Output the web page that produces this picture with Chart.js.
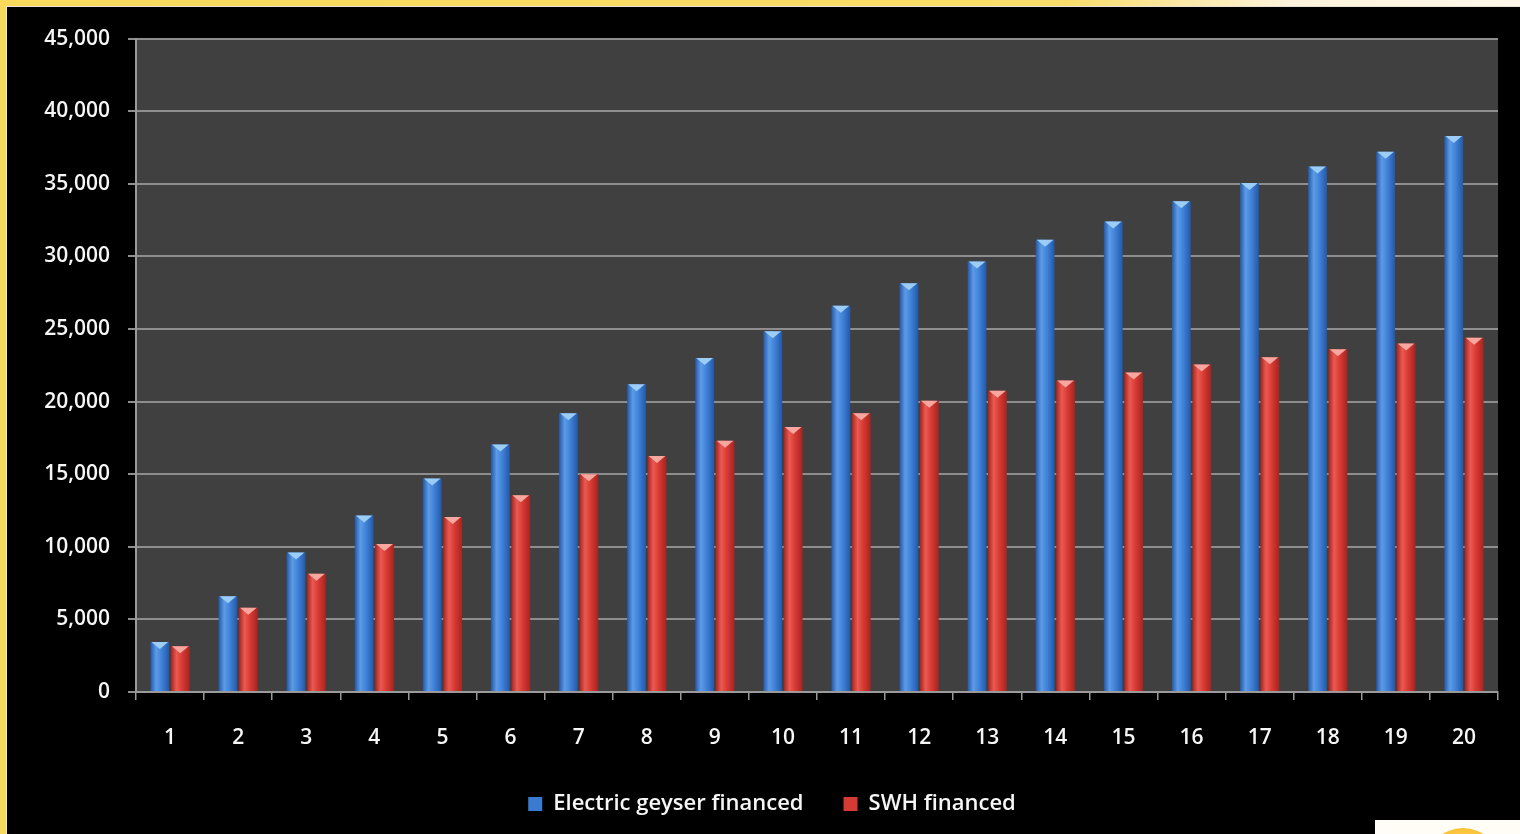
<!DOCTYPE html>
<html>
<head>
<meta charset="utf-8">
<script src="https://cdn.jsdelivr.net/npm/chart.js@4/dist/chart.umd.min.js"></script>
<style>
  html, body { margin: 0; padding: 0; width: 1520px; height: 834px; overflow: hidden; background: #000; }
  #topStrip { position: absolute; left: 0; top: 0; width: 1520px; height: 6px;
    background: linear-gradient(to right, #f8d95c 0%, #f9dd6a 70%, #fdf3dc 85%, #fff8ea 100%); }
  #topLine { position: absolute; left: 6px; top: 6px; width: 1514px; height: 1px; background: #e8e2cf; }
  #leftStrip { position: absolute; left: 0; top: 0; width: 6px; height: 834px; background: #f8d95c; }
  #leftLine { position: absolute; left: 6px; top: 6px; width: 1px; height: 828px; background: #f3ead0; }
  #wrap { position: absolute; left: 8px; top: 8px; width: 1512px; height: 826px; background: #000; }
  #logo { position: absolute; left: 1375px; top: 820px; width: 145px; height: 14px; background: #fffdf6; overflow: hidden; }
  #logo div { position: absolute; left: 50px; top: 8px; width: 76px; height: 76px; border-radius: 50%;
    background: radial-gradient(circle at 50% 30%, #ffd24a, #f4a81c); }
</style>
</head>
<body>
<div id="topStrip"></div>
<div id="leftStrip"></div>
<div id="topLine"></div>
<div id="leftLine"></div>
<div id="wrap"><canvas id="c" width="1512" height="826"></canvas></div>
<div id="logo"><div></div></div>
<script>
const labels = ['1','2','3','4','5','6','7','8','9','10','11','12','13','14','15','16','17','18','19','20'];
const electricGeyser = [3450, 6600, 9600, 12150, 14700, 17050, 19200, 21200, 23000, 24850, 26600, 28150, 29650, 31150, 32400, 33800, 35050, 36200, 37200, 38300];
const swhFinanced = [3150, 5800, 8150, 10200, 12050, 13550, 15000, 16250, 17300, 18250, 19200, 20050, 20750, 21450, 22000, 22550, 23050, 23600, 24000, 24400];
const seriesNames = ['Electric geyser financed', 'SWH financed'];
const yTicks = [0, 5000, 10000, 15000, 20000, 25000, 30000, 35000, 40000, 45000];

const CAT_PCT = 0.6, BAR_PCT = 0.92;
const palettes = [
  { edge: '#2458a8', mid: '#3f82d8', light: '#5d9be6', cap: '#9ccdf7', solid: '#3a7bd0' },
  { edge: '#a52420', mid: '#d83a33', light: '#ea5a52', cap: '#f7a7a0', solid: '#d63a33' }
];

function barFill(ctx) {
  const p = palettes[ctx.datasetIndex];
  if (ctx.type !== 'data') return p.solid;
  const chart = ctx.chart;
  const xs = chart.scales.x;
  if (!xs || !isFinite(xs.width) || xs.width <= 0) return p.solid;
  const catW = xs.width / labels.length;
  const center = xs.getPixelForValue(ctx.dataIndex);
  const slot = catW * CAT_PCT / 2;
  const w = slot * BAR_PCT;
  const cx = center + (ctx.datasetIndex === 0 ? -slot / 2 : slot / 2);
  const g = chart.ctx.createLinearGradient(cx - w / 2, 0, cx + w / 2, 0);
  g.addColorStop(0, p.edge);
  g.addColorStop(0.3, p.light);
  g.addColorStop(0.6, p.mid);
  g.addColorStop(1, p.edge);
  return g;
}

const bgPlugin = {
  id: 'plotBg',
  beforeDraw(chart) {
    const { ctx, chartArea: a } = chart;
    ctx.save();
    ctx.fillStyle = '#404040';
    ctx.fillRect(a.left, a.top, a.right - a.left, a.bottom - a.top);
    ctx.restore();
  }
};

const legendShift = {
  id: 'legendShift',
  afterLayout(chart) {
    if (chart.legend) { chart.legend.left += 19; chart.legend.right += 19; }
  }
};

const capPlugin = {
  id: 'barCaps',
  afterDatasetsDraw(chart) {
    const ctx = chart.ctx;
    chart.data.datasets.forEach((ds, di) => {
      const meta = chart.getDatasetMeta(di);
      const p = palettes[di];
      meta.data.forEach(el => {
        const { x, y, width } = el.getProps(['x', 'y', 'width'], true);
        const h = Math.min(7, width * 0.38);
        ctx.save();
        ctx.fillStyle = p.cap;
        ctx.beginPath();
        ctx.moveTo(x - width / 2 + 1, y);
        ctx.lineTo(x + width / 2 - 1, y);
        ctx.lineTo(x, y + h);
        ctx.closePath();
        ctx.fill();
        ctx.restore();
      });
    });
  }
};

const FONT = '"Open Sans", Lato, sans-serif';
const TXT = '#f6f6f6';

new Chart(document.getElementById('c'), {
  type: 'bar',
  data: {
    labels: labels,
    datasets: [
      { label: seriesNames[0], data: electricGeyser, backgroundColor: barFill, borderWidth: 0,
        categoryPercentage: CAT_PCT, barPercentage: BAR_PCT },
      { label: seriesNames[1], data: swhFinanced, backgroundColor: barFill, borderWidth: 0,
        categoryPercentage: CAT_PCT, barPercentage: BAR_PCT }
    ]
  },
  options: {
    responsive: false,
    animation: false,
    layout: { padding: { top: 29, right: 22, bottom: 9, left: 0 } },
    plugins: {
      legend: {
        position: 'bottom',
        labels: {
          color: TXT,
          font: { family: FONT, size: 22, weight: '600' },
          boxWidth: 14, boxHeight: 14,
          padding: 40,
          generateLabels(chart) {
            return chart.data.datasets.map((ds, i) => ({
              text: ds.label, fillStyle: palettes[i].solid, strokeStyle: palettes[i].solid,
              lineWidth: 0, hidden: false, datasetIndex: i, fontColor: TXT
            }));
          }
        }
      },
      tooltip: { enabled: false }
    },
    scales: {
      x: {
        afterFit(s) { s.height = 61; },
        grid: { display: true, drawOnChartArea: false, drawTicks: true, tickLength: 8, color: '#9a9a9a', lineWidth: 1.5, offset: true },
        border: { display: true, color: '#9a9a9a', width: 2 },
        ticks: { color: TXT, font: { family: FONT, size: 21, weight: '600' }, padding: 25, maxRotation: 0 }
      },
      y: {
        min: 0, max: 45000,
        afterFit(s) { s.width = 128; },
        afterBuildTicks(s) { s.ticks = yTicks.map(v => ({ value: v })); },
        grid: { color: '#8e8e8e', lineWidth: 2, tickLength: 8, drawTicks: true },
        border: { display: true, color: '#9a9a9a', width: 2 },
        ticks: {
          color: TXT, font: { family: FONT, size: 21, weight: '600' }, padding: 18,
          callback: v => v.toLocaleString('en-US')
        }
      }
    }
  },
  plugins: [bgPlugin, capPlugin, legendShift]
});
</script>
</body>
</html>
